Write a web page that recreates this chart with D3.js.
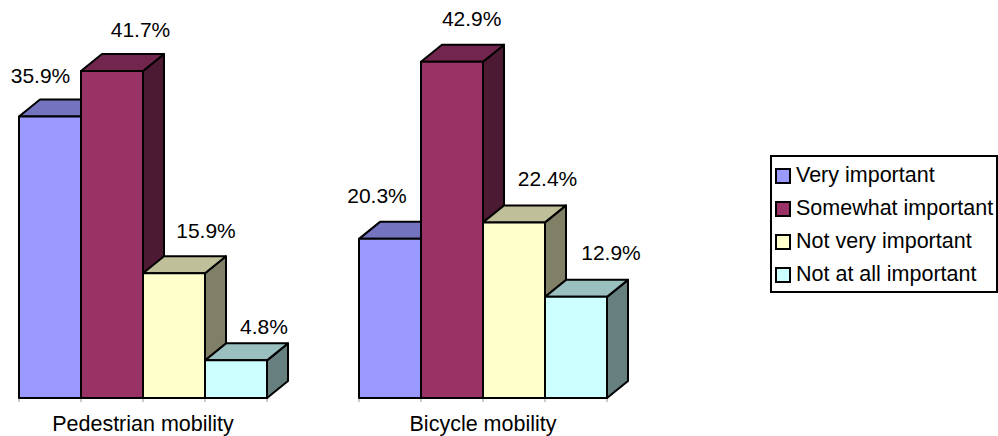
<!DOCTYPE html>
<html>
<head>
<meta charset="utf-8">
<script src="https://cdn.jsdelivr.net/npm/d3@7"></script>
<style>
  html, body { margin: 0; padding: 0; background: #fff; }
  svg { display: block; font-family: "Liberation Sans", Arial, sans-serif; }
</style>
</head>
<body>
<svg id="chart" width="998" height="436"></svg>
<script>
// Survey answers: importance of mobility types (percent of respondents)
const categories = ["Pedestrian mobility", "Bicycle mobility"];
const seriesNames = ["Very important", "Somewhat important", "Not very important", "Not at all important"];
const pedestrianValues = [35.9, 41.7, 15.9, 4.8];
const bicycleValues = [20.3, 42.9, 22.4, 12.9];
const seriesColors = ["#9999FF", "#993366", "#FFFFCC", "#CCFFFF"];

// label nudges [dx from front-face centre, dy from back top edge]
const labelNudge = [
  [[-9.5, -16.5], [28.5, -16.7], [32, -18.8], [28, -9.4]],
  [[-13, -18.8], [19.7, -18.7], [33.5, -19.7], [35, -19.9]]
];

const groupValues = [pedestrianValues, bicycleValues];
const svg = d3.select("#chart");

const baseY = 398;
const depthX = 21, depthY = 17;

const y = d3.scaleLinear().domain([0, 50]).range([baseY, 6]);
const x0 = d3.scaleBand().domain(categories).range([19, 607]).paddingInner(92 / 340).paddingOuter(0);
const x1 = d3.scaleBand().domain(seriesNames).range([0, x0.bandwidth()]);

const shade = (c, k) => {
  const r = d3.rgb(c);
  return d3.rgb(r.r * k, r.g * k, r.b * k).formatHex();
};

const bars = [];
categories.forEach((cat, gi) => {
  seriesNames.forEach((s, si) => {
    bars.push({ cat, gi, s, si, v: groupValues[gi][si] });
  });
});

// small tick marks under the floor at the bar boundaries
const axisG = svg.append("g");
categories.forEach(cat => {
  const xs = seriesNames.map(s => x0(cat) + x1(s)).concat([x0(cat) + x0.bandwidth()]);
  xs.forEach(xx => {
    axisG.append("line")
      .attr("x1", xx).attr("x2", xx)
      .attr("y1", baseY).attr("y2", baseY + 4)
      .attr("stroke", "#999").attr("stroke-width", 1);
  });
});

const barG = svg.append("g")
  .attr("stroke", "#000").attr("stroke-width", 2).attr("stroke-linejoin", "round");

bars.forEach(d => {
  const xl = x0(d.cat) + x1(d.s);
  const w = x1.bandwidth();
  const yt = y(d.v);
  const g = barG.append("g");
  const c = seriesColors[d.si];
  // side face
  g.append("polygon")
    .attr("points", [[xl + w, yt], [xl + w + depthX, yt - depthY], [xl + w + depthX, baseY - depthY], [xl + w, baseY]].join(" "))
    .attr("fill", shade(c, 0.5));
  // top face
  g.append("polygon")
    .attr("points", [[xl, yt], [xl + depthX, yt - depthY], [xl + w + depthX, yt - depthY], [xl + w, yt]].join(" "))
    .attr("fill", shade(c, 0.75));
  // front face
  g.append("rect")
    .attr("x", xl).attr("y", yt)
    .attr("width", w).attr("height", baseY - yt)
    .attr("fill", c);
});

// value labels
const labelG = svg.append("g").attr("font-size", 21).attr("fill", "#000").attr("text-anchor", "middle");
bars.forEach(d => {
  const xc = x0(d.cat) + x1(d.s) + x1.bandwidth() / 2;
  const nd = labelNudge[d.gi][d.si];
  labelG.append("text")
    .attr("x", xc + nd[0])
    .attr("y", y(d.v) - depthY + nd[1])
    .text(d.v.toFixed(1) + "%");
});

// category labels
svg.append("g").attr("font-size", 21.5).attr("text-anchor", "middle")
  .selectAll("text").data(categories).join("text")
  .attr("x", d => x0(d) + x0.bandwidth() / 2)
  .attr("y", 431)
  .text(d => d);

// legend
const legend = svg.append("g").attr("transform", "translate(771,156)");
legend.append("rect")
  .attr("x", 0).attr("y", 0).attr("width", 226).attr("height", 136)
  .attr("fill", "#fff").attr("stroke", "#000").attr("stroke-width", 2);
const rows = legend.selectAll("g.row").data(seriesNames).join("g")
  .attr("class", "row")
  .attr("transform", (d, i) => `translate(0,${26 + i * 33})`);
rows.append("rect")
  .attr("x", 5).attr("y", -13).attr("width", 14).attr("height", 14)
  .attr("fill", (d, i) => seriesColors[i]).attr("stroke", "#000").attr("stroke-width", 2);
rows.append("text")
  .attr("x", 25).attr("y", 0)
  .attr("font-size", 21.5)
  .text(d => d);
</script>
</body>
</html>
